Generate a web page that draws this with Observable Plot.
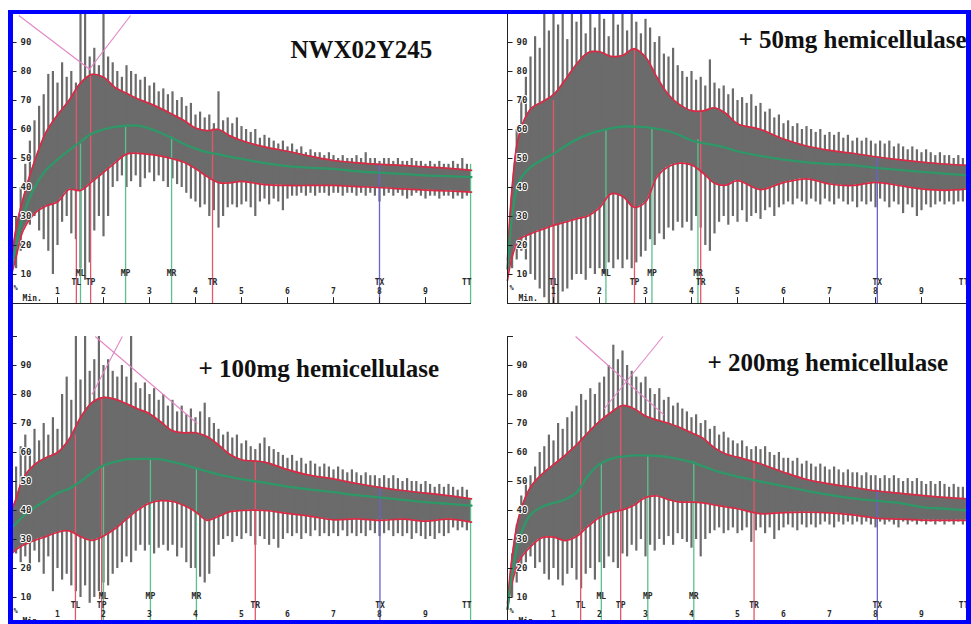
<!DOCTYPE html>
<html><head><meta charset="utf-8">
<script src="https://cdn.jsdelivr.net/npm/d3@7"></script>
<script src="https://cdn.jsdelivr.net/npm/@observablehq/plot@0.6"></script>
<style>
html,body{margin:0;padding:0;background:#fff;}
#page{position:relative;width:971px;height:624px;overflow:hidden;background:#fff;}
#frame{position:absolute;left:8px;top:10px;width:963px;height:614px;box-sizing:border-box;border-style:solid;border-color:#0000ff;border-width:4px 5px 4px 5px;z-index:10;pointer-events:none;}
</style></head><body><div id="page"><div id="frame"></div></div>
<script>
// ---- shared grids ----
const envTimes = [0,0.1,0.25,0.5,0.75,1,1.25,1.5,1.75,2,2.25,2.5,2.75,3,3.25,3.5,3.75,4,4.25,4.5,4.75,5,5.5,6,6.5,7,7.5,8,8.5,9,9.5,10];
const spikeTimes = [0.1,0.2,0.3,0.4,0.5,0.6,0.7,0.8,0.9,1.0,1.1,1.2,1.3,1.4,1.5,1.6,1.7,1.8,1.9,2.0,2.1,2.2,2.3,2.4,2.5,2.6,2.7,2.8,2.9,3.0,3.1,3.2,3.3,3.4,3.5,3.6,3.7,3.8,3.9,4.0,4.1,4.2,4.3,4.4,4.5,4.6,4.7,4.8,4.9,5.0,5.1,5.2,5.3,5.4,5.5,5.6,5.7,5.8,5.9,6.0,6.1,6.2,6.3,6.4,6.5,6.6,6.7,6.8,6.9,7.0,7.1,7.2,7.3,7.4,7.5,7.6,7.7,7.8,7.9,8.0,8.1,8.2,8.3,8.4,8.5,8.6,8.7,8.8,8.9,9.0,9.1,9.2,9.3,9.4,9.5,9.6,9.7,9.8,9.9];
const yTicks = [10,20,30,40,50,60,70,80,90];
const xTicks = [1,2,3,4,5,6,7,8,9];
const markerNames = ["TL","ML","TP","MP","MR","TR","TX","TT"];
const markerRow = ["lower","upper","lower","upper","upper","lower","lower","lower"];
const panelTitles = ["NWX02Y245","+ 50mg hemicellulase","+ 100mg hemicellulase","+ 200mg hemicellulase"];

// ---- panel 1: NWX02Y245 ----
const p1Upper = [15,26,36,49,59,65,70,76,79,78,74.5,72.5,70.5,69,67.2,65.2,63.1,60.5,59.6,60,57.8,56.2,54,52.5,50.8,49.3,48.5,48,47.6,47.1,46.6,45.9];
const p1Middle = [12,20,30,40,46,49.6,52.8,55.8,58.6,60,60.9,61.3,61.3,60.3,58.8,57,55,53.4,52.2,51.4,50.6,49.9,48.4,47.4,46.8,46.4,45.6,45.1,44.7,44.2,43.9,43.6];
const p1Lower = [10,16,25,31,33.6,35,39.3,39,42,45.2,48.5,51.5,51.8,51.4,50.8,49.9,48.7,46.5,43.8,41.7,41.6,42.1,41,40.7,40.7,40.7,40.3,40,39.5,39.1,38.8,38.4];
const p1Hi = [30,40,48,56,63,68,72,79,80,76, 83,78,80,76,100,100,85,88,82,100, 85,83,80,78,82,80,79,77,78,75, 76,73,74,72,73,70,71,68,69,65, 66,64,65,62,73,63,64,62,64,61, 60,59,60,57,58,57,56,55,56,54, 55,53,54,52,53,52,52,51,52,51, 50,51,50,50,51,50,52,50,50,49, 50,50,49,50,49,49,50,49,49,48, 49,48,49,48,48,49,48,50,48];
const p1Lo = [12,18,28,27,30,25,22,18,10,20, 28,30,24,22,12,8,14,25,30,23, 30,40,42,44,40,42,44,40,43,45, 42,44,42,40,43,41,40,38,36,35, 33,34,30,32,26,30,33,34,33,34, 35,33,30,35,36,34,36,35,32,36, 37,37,38,37,38,37,38,38,37,38, 38,37,38,38,37,38,37,38,37,35, 37,38,37,38,37,36,37,38,37,36, 37,37,36,37,37,36,37,36,37];
const p1MarkerT = [1.41,1.50,1.72,2.48,3.48,4.37,8.0,9.98];
const p1MarkerTop = [73.4,55,79,61.4,57.4,60.2,48.2,48];
const p1Tangents = [[0.16,99.3,1.72,80.5],[1.68,80.5,2.59,99.3]];

// ---- panel 2: +50mg ----
const p2Upper = [15,40,58,67,69.5,72,77,82.5,86.5,86.8,85.2,85.5,87.8,85,78,72,68.5,66.5,66.4,67.5,65.5,62,60,56.7,54.3,52.8,51.8,50.6,49.6,48.8,48.1,47.6];
const p2Middle = [12,30,42,47,49.5,51.6,54.3,56.5,58.3,59.5,60.4,61,61,60.8,60.2,59.4,58,56.2,55.3,54.6,53.7,52.5,50.9,49.6,48.7,48.1,47.7,46.8,46.1,45.4,44.8,44.2];
const p2Lower = [8,16,22,24,25.5,26.9,28,29.2,30.2,33,37.8,37,33.2,35,43.6,47.2,48.4,47.8,45,41.5,40.8,42.4,39.3,41.7,43,41.2,40.7,41.8,40.7,39.5,39,39.5];
const p2Hi = [40,60,70,78,85,92,88,100,94,100, 96,100,91,100,97,100,93,100,95,100, 98,92,100,96,100,94,100,97,93,98, 95,90,92,86,85,88,82,80,78,80, 77,78,75,84,76,74,75,72,74,70, 71,69,72,68,69,66,67,64,65,62, 63,61,62,60,61,60,59,60,58,59, 58,59,57,58,56,57,56,57,56,55, 56,55,56,54,55,54,53,54,53,52, 53,52,51,52,51,51,50,51,50];
const p2Lo = [12,15,18,15,10,8,5,2,0,0, 0,4,5,8,10,10,8,12,10,12, 10,14,12,15,12,15,12,14,16,18, 22,20,24,22,26,25,28,26,28,25, 30,26,20,18,24,28,30,27,30,28, 32,28,30,31,29,32,33,30,33,34, 35,34,36,35,34,36,35,34,36,35, 34,36,35,34,35,33,35,34,35,33, 36,35,33,35,34,31,34,33,30,32, 34,33,34,35,34,35,34,35,35];
const p2MarkerT = [1.0,2.14,2.76,3.14,4.14,4.2,8.04,10];
const p2MarkerTop = [70,60,88,60.5,56.5,66.5,50.5,47.6];
const p2Tangents = [];

// ---- panel 3: +100mg ----
const p3Upper = [40,44,51,55.8,58.2,60,64.5,72,77.2,79,78.4,76.8,75,73.4,70.5,67.5,66.8,66.8,65.5,62.6,59.3,57.5,56.7,54.1,52.1,50.9,49.3,48,46.9,46,45.1,44];
const p3Middle = [34,35.5,38,41,43.5,46,47.5,50,53,55.5,56.8,57.6,57.8,57.8,57.6,56.8,55.8,54.6,53.5,52.4,51.6,50.8,49.6,48.2,47.2,46.3,45.3,44.5,43.7,42.9,42.3,41.7];
const p3Lower = [25,26.5,28,29.7,31,32.5,33,31,29.7,31.2,33.7,37,40.2,42.5,43.4,43.1,41.7,39.6,36.6,38,39.6,40,40,39,38,36.8,37.1,36.6,37,36.3,37,36];
const p3Hi = [55,62,66,60,68,64,70,66,72,68, 80,86,78,100,85,100,88,92,100,90, 92,88,86,90,86,100,84,82,84,80, 82,78,80,76,78,74,76,73,75,72, 74,77,72,70,68,66,67,65,66,63, 64,62,61,63,65,62,61,60,59,58, 59,57,58,56,57,56,55,56,55,54, 55,54,53,54,53,52,53,52,52,51, 52,51,52,51,50,51,50,50,49,50, 49,48,49,48,49,48,47,48,47];
const p3Lo = [25,22,24,20,26,22,18,24,12,20, 16,18,14,12,10,14,8,10,12,15, 14,18,20,22,24,22,26,28,26,28, 25,27,28,26,28,24,27,22,20,20, 17,15,18,24,28,30,31,29,31,30, 32,31,28,31,30,28,30,27,30,32, 31,32,30,32,31,33,31,32,31,32, 31,33,31,32,31,32,31,33,32,31, 32,33,31,32,31,32,30,32,31,30, 31,30,32,31,32,34,33,34,33];
const p3MarkerT = [1.39,2.0,1.96,3.02,4.02,5.30,8.01,9.98];
const p3MarkerTop = [66,55.5,79,57.8,54.6,56.7,48,44];
const p3Tangents = [[1.82,100,4.04,70],[1.75,80,2.41,100]];

// ---- panel 4: +200mg ----
const p4Upper = [8,24,38,48,52.5,55.8,59,62.6,66.8,70.7,73.8,76.2,75.1,72.6,71.2,70.1,68.6,66.8,64.9,61.6,59.5,58.4,56.1,53.2,50.7,49.2,48,46.8,46,45.2,44.5,44];
const p4Middle = [6,18,30,38.5,41.3,42.6,43.8,46.2,52,56,57.8,58.6,59,59,58.8,58.4,57.6,56.7,55.3,53.8,52.7,51.7,50,48.4,46.8,45.4,44.2,43.4,42.6,41.2,40.6,40];
const p4Lower = [6,15,22.5,27.5,30.6,30.8,29.6,31,34.5,37.6,39.3,40.2,41.8,44.5,45,43.7,42.9,42.9,42.6,41.9,41.2,40.6,38.9,39.3,39.4,39.2,38.5,37.4,37,36.7,36.6,36.6];
const p4Hi = [25,35,45,50,52,55,60,62,66,64, 70,68,72,74,76,80,78,82,80,84, 86,90,97,92,95,90,88,86,84,86, 82,80,82,78,79,76,77,75,74,72, 73,70,71,68,69,66,67,65,64,63, 64,62,61,62,61,62,60,59,60,58, 58,57,58,56,57,56,55,56,55,54, 55,54,53,54,53,53,52,53,52,52, 51,52,51,52,51,50,51,50,51,50, 49,50,49,50,49,48,49,48,48];
const p4Lo = [10,15,20,22,24,20,22,18,16,20, 16,14,18,20,16,13,18,20,16,22, 20,24,22,20,25,24,28,26,30,24, 28,26,30,28,31,28,32,30,29,27, 30,24,30,32,33,34,32,33,34,32, 33,34,29,33,34,32,34,30,33,34, 35,34,33,35,34,35,34,35,36,35, 34,36,35,36,35,36,35,36,35,34, 36,35,36,35,34,36,35,36,35,36, 35,36,35,36,35,36,35,36,35];
const p4MarkerT = [1.59,2.04,2.46,3.05,4.05,5.36,8.04,10];
const p4MarkerTop = [64,56,76,59,56.7,56.7,47,44];
const p4Tangents = [[1.48,100,3.4,73],[2.1,75,3.38,100]];

// ---- styles ----
const gray = "#6b6b6b";
const envRed = "#d92a45";
const midGreen = "#2e9868";
const markerColor = {TL:"#e4566a", ML:"#5cc08e", TP:"#e4566a", MP:"#5cc08e", MR:"#5cc08e", TR:"#e4566a", TX:"#6464cc", TT:"#5cc08e"};
const pink = "#e286c6";
const axisFont = "DejaVu Sans Mono";
const titleFont = "Liberation Serif";

const panels = [
  {left:0, top:0, upper:p1Upper, middle:p1Middle, lower:p1Lower, hi:p1Hi, lo:p1Lo, mT:p1MarkerT, mTop:p1MarkerTop, tang:p1Tangents, title:panelTitles[0], tdx:279, tdy:44},
  {left:496, top:0, upper:p2Upper, middle:p2Middle, lower:p2Lower, hi:p2Hi, lo:p2Lo, mT:p2MarkerT, mTop:p2MarkerTop, tang:p2Tangents, title:panelTitles[1], tdx:231, tdy:34},
  {left:0, top:323, upper:p3Upper, middle:p3Middle, lower:p3Lower, hi:p3Hi, lo:p3Lo, mT:p3MarkerT, mTop:p3MarkerTop, tang:p3Tangents, title:panelTitles[2], tdx:187, tdy:40},
  {left:496, top:323, upper:p4Upper, middle:p4Middle, lower:p4Lower, hi:p4Hi, lo:p4Lo, mT:p4MarkerT, mTop:p4MarkerTop, tang:p4Tangents, title:panelTitles[3], tdx:200, tdy:34}
];

const page = document.getElementById("page");

for (const p of panels) {
  const env = envTimes.map((t, i) => ({t, up: p.upper[i], mid: p.middle[i], lo: p.lower[i]}));
  const spikes = spikeTimes.map((t, i) => ({t, hi: p.hi[i], lo: p.lo[i]}));
  const markers = markerNames.map((n, i) => ({name: n, row: markerRow[i], t: p.mT[i], top: p.mTop[i]}));
  const tangents = p.tang.map(([x1, y1, x2, y2]) => ({x1, y1, x2, y2}));
  const small = {fontFamily: axisFont, fontWeight: "bold", fontSize: 8, fill: "#2a2a2a"};
  const upperLabels = markers.filter(d => d.row === "upper");
  const lowerLabels = markers.filter(d => d.row === "lower" && d.name !== "TT");
  const ttLabel = markers.filter(d => d.name === "TT");

  const svg = Plot.plot({
    width: 475, height: 310,
    marginLeft: 11, marginRight: 4, marginTop: 13, marginBottom: 7,
    x: {domain: [0, 10], axis: null},
    y: {domain: [0, 100], axis: null},
    style: {background: "transparent", overflow: "visible", maxWidth: "none"},
    marks: [
      Plot.areaY(env, {x: "t", y1: "lo", y2: "up", fill: gray, curve: "catmull-rom"}),
      Plot.ruleX(spikes, {x: "t", y1: "lo", y2: "hi", stroke: gray, strokeWidth: 2.2}),
      Plot.ruleX(markers, {x: "t", y1: 0, y2: "top", stroke: d => markerColor[d.name], strokeWidth: 1.3}),
      Plot.line(env, {x: "t", y: "up", stroke: envRed, strokeWidth: 1.7, curve: "catmull-rom"}),
      Plot.line(env, {x: "t", y: "lo", stroke: envRed, strokeWidth: 1.7, curve: "catmull-rom"}),
      Plot.line(env, {x: "t", y: "mid", stroke: midGreen, strokeWidth: 2.3, curve: "catmull-rom"}),
      Plot.link(tangents, {x1: "x1", y1: "y1", x2: "x2", y2: "y2", stroke: pink, strokeWidth: 1.1}),
      // y axis
      Plot.ruleX([0], {y1: 0, y2: 100, stroke: "#222", strokeWidth: 1}),
      Plot.ruleY([100], {x1: 0, x2: 0.13, stroke: "#222", strokeWidth: 1}),
      Plot.ruleY(yTicks, {y: d => d, x1: 0, x2: 0.12, stroke: "#222", strokeWidth: 1}),
      Plot.text(yTicks, {x: 0, y: d => d, text: d => String(d), textAnchor: "start", dx: 9, ...small, fontSize: 9, stroke: "white", strokeWidth: 2}),
      // x axis
      Plot.ruleY([0], {x1: 0, x2: 10, stroke: "#222", strokeWidth: 1.2}),
      Plot.ruleX(xTicks, {x: d => d, y1: 0, y2: 2, stroke: "#222", strokeWidth: 1}),
      Plot.text(xTicks, {x: d => d, y: 0, dy: -12, text: d => String(d), ...small}),
      Plot.text(["Min."], {x: 0, y: 0, dx: 11, dy: -5, textAnchor: "start", ...small}),
      Plot.text(["%"], {x: 0, y: 0, dx: 4, dy: -16, textAnchor: "middle", ...small, fontSize: 7}),
      // marker labels
      Plot.text(upperLabels, {x: "t", y: 0, dy: -30, text: "name", ...small}),
      Plot.text(lowerLabels, {x: "t", y: 0, dy: -21, text: "name", ...small}),
      Plot.text(ttLabel, {x: "t", y: 0, dy: -21, dx: 1, textAnchor: "end", text: "name", ...small}),
      // title
      Plot.text([p.title], {frameAnchor: "top-left", dx: p.tdx, dy: p.tdy, textAnchor: "start", lineAnchor: "bottom", fontFamily: titleFont, fontWeight: "bold", fontSize: 25, fill: "#111"})
    ]
  });
  svg.style.position = "absolute";
  svg.style.left = p.left + "px";
  svg.style.top = p.top + "px";
  page.appendChild(svg);
}
</script>
</body></html>
